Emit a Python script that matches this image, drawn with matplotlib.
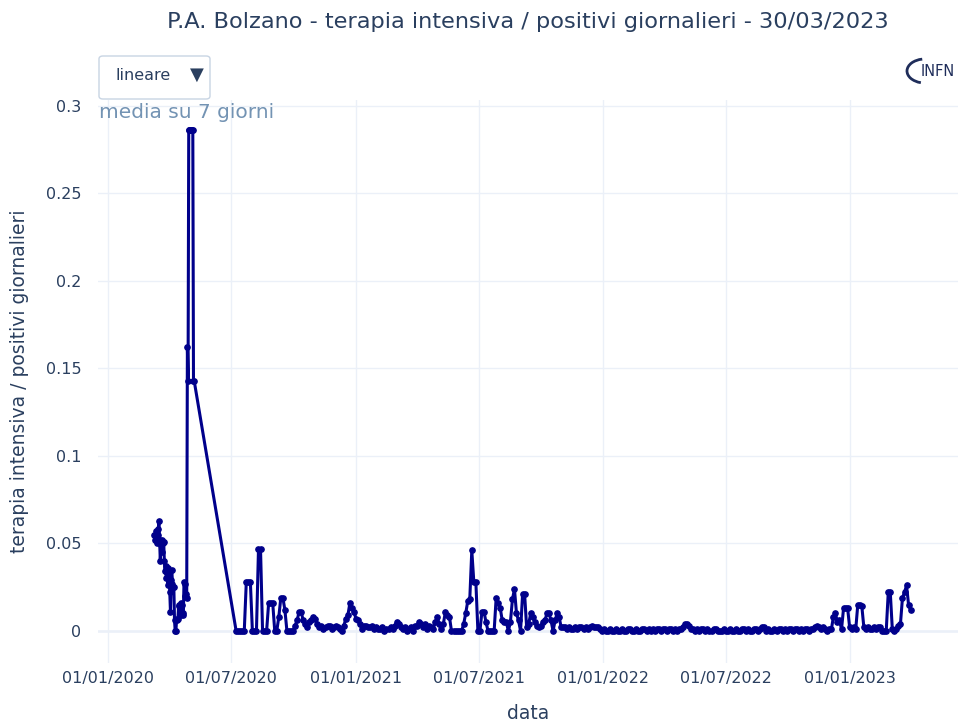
import numpy as np
import pandas as pd
import matplotlib
matplotlib.use("Agg")
import matplotlib.pyplot as plt
import matplotlib.dates as mdates
from matplotlib.patches import FancyBboxPatch, Arc

# first wave, daily values (7-day mean)
wave1_start = "2020-03-09"
wave1_vals = [
    0.055, 0.052, 0.057, 0.052, 0.050, 0.055, 0.058, 0.063, 0.052, 0.040,
    0.049, 0.052, 0.045, 0.050, 0.051, 0.040, 0.034, 0.037, 0.030, 0.033,
    0.026, 0.036, 0.030, 0.022, 0.011, 0.029, 0.035, 0.027, 0.025, 0.025,
    0.006, 0.0, 0.0, 0.006, 0.007, 0.007, 0.014, 0.015, 0.010, 0.009,
    0.016, 0.015, 0.010, 0.009, 0.028, 0.027, 0.020, 0.021, 0.019, 0.162,
    0.143, 0.286, 0.286, 0.286, 0.286, 0.286, 0.286, 0.286, 0.143, 0.143,
]

# from july 2020 on, one value every 3 days
rest_start = "2020-07-08"
rest_vals = [
    0.0, 0.0, 0.0, 0.0, 0.0, 0.028, 0.028, 0.028, 0.0, 0.0,            # 0
    0.0, 0.047, 0.047, 0.0, 0.0, 0.0, 0.016, 0.016, 0.016, 0.0,        # 10
    0.0, 0.008, 0.019, 0.019, 0.012, 0.0, 0.0, 0.0, 0.0, 0.003,        # 20
    0.006, 0.011, 0.011, 0.006, 0.004, 0.002, 0.005, 0.006, 0.008, 0.007,  # 30
    0.004, 0.002, 0.003, 0.001, 0.002, 0.003, 0.003, 0.001, 0.002, 0.003,  # 40
    0.002, 0.001, 0.0, 0.003, 0.007, 0.009, 0.016, 0.013, 0.011, 0.007,    # 50
    0.006, 0.004, 0.001, 0.003, 0.003, 0.002, 0.002, 0.003, 0.001, 0.002,  # 60
    0.001, 0.001, 0.002, 0.0, 0.001, 0.001, 0.002, 0.001, 0.003, 0.005,    # 70
    0.004, 0.002, 0.001, 0.002, 0.0, 0.001, 0.002, 0.0, 0.003, 0.003,      # 80
    0.005, 0.004, 0.002, 0.004, 0.001, 0.003, 0.002, 0.001, 0.005, 0.008,  # 90
    0.004, 0.001, 0.004, 0.011, 0.009, 0.008, 0.0, 0.0, 0.0, 0.0,          # 100
    0.0, 0.0, 0.004, 0.010, 0.017, 0.018, 0.046, 0.028, 0.028, 0.0,        # 110
    0.0, 0.011, 0.011, 0.005, 0.0, 0.0, 0.0, 0.0, 0.019, 0.016,            # 120
    0.013, 0.006, 0.005, 0.005, 0.0, 0.005, 0.018, 0.024, 0.010, 0.006,    # 130
    0.0, 0.021, 0.021, 0.002, 0.004, 0.010, 0.008, 0.005, 0.003, 0.002,    # 140
    0.003, 0.005, 0.006, 0.010, 0.010, 0.006, 0.0, 0.006, 0.010, 0.008,    # 150
    0.002, 0.002, 0.002, 0.001, 0.002, 0.001, 0.001, 0.002, 0.001, 0.002,  # 160
    0.002, 0.001, 0.002, 0.001, 0.002, 0.003, 0.002, 0.002, 0.002, 0.001,  # 170
    0.0, 0.001, 0.0, 0.0, 0.001, 0.0, 0.0, 0.001, 0.0, 0.0,                # 180
    0.001, 0.0, 0.0, 0.001, 0.001, 0.0, 0.0, 0.001, 0.0, 0.0,              # 190
    0.001, 0.001, 0.0, 0.001, 0.0, 0.001, 0.0, 0.001, 0.001, 0.0,          # 200
    0.001, 0.001, 0.0, 0.001, 0.001, 0.0, 0.001, 0.0, 0.001, 0.001,        # 210
    0.002, 0.004, 0.004, 0.003, 0.001, 0.001, 0.0, 0.001, 0.0, 0.001,      # 220
    0.001, 0.0, 0.001, 0.0, 0.0, 0.001, 0.001, 0.0, 0.0, 0.0,              # 230
    0.001, 0.0, 0.0, 0.001, 0.0, 0.0, 0.001, 0.0, 0.0, 0.001,              # 240
    0.001, 0.0, 0.001, 0.0, 0.0, 0.001, 0.001, 0.0, 0.001, 0.002,          # 250
    0.002, 0.0, 0.001, 0.0, 0.0, 0.001, 0.0, 0.001, 0.001, 0.0,            # 260
    0.001, 0.0, 0.001, 0.001, 0.0, 0.001, 0.001, 0.0, 0.001, 0.0,          # 270
    0.001, 0.001, 0.0, 0.001, 0.001, 0.002, 0.003, 0.002, 0.001, 0.002,    # 280
    0.001, 0.0, 0.001, 0.001, 0.008, 0.010, 0.005, 0.006, 0.001, 0.013,    # 290
    0.013, 0.013, 0.002, 0.001, 0.002, 0.001, 0.015, 0.015, 0.014, 0.002,  # 300
    0.001, 0.002, 0.001, 0.001, 0.002, 0.001, 0.002, 0.002, 0.0, 0.0,      # 310
    0.0, 0.022, 0.022, 0.001, 0.0, 0.001, 0.003, 0.004, 0.019, 0.022,      # 320
    0.026, 0.015, 0.012,                                                    # 330
]

title = "P.A. Bolzano - terapia intensiva / positivi giornalieri - 30/03/2023"
y_ticks = [0, 0.05, 0.1, 0.15, 0.2, 0.25, 0.3]
y_ticklabels = ["0", "0.05", "0.1", "0.15", "0.2", "0.25", "0.3"]
x_ticks = ["2020-01-01", "2020-07-01", "2021-01-01", "2021-07-01",
           "2022-01-01", "2022-07-01", "2023-01-01"]

dates = pd.date_range(wave1_start, periods=len(wave1_vals), freq="D").append(
    pd.date_range(rest_start, periods=len(rest_vals), freq="3D"))
vals = wave1_vals + rest_vals

text_col = "#2a3f5f"
grid_col = "#ebf0f8"

fig = plt.figure(figsize=(9.62, 7.26), dpi=100)
W, H = 962, 726
ax = fig.add_axes([98 / W, (H - 663) / H, (958 - 98) / W, (663 - 100) / H])

ax.plot(dates, vals, color="#00008b", lw=2.2, marker="o", ms=3.8, zorder=3)

ax.set_xlim(pd.Timestamp("2019-12-17"), pd.Timestamp("2023-06-09"))
ax.set_ylim(-0.0183, 0.3034)
ax.set_yticks(y_ticks)
ax.set_yticklabels(y_ticklabels)
ax.set_xticks(pd.to_datetime(x_ticks))
ax.xaxis.set_major_formatter(mdates.DateFormatter("%d/%m/%Y"))
ax.tick_params(length=0, labelsize=11.5, colors=text_col)
ax.tick_params(axis="y", pad=12)
ax.tick_params(axis="x", pad=6)
ax.grid(True, color=grid_col, lw=1)
ax.axhline(0, color=grid_col, lw=1.8, zorder=1)
ax.set_axisbelow(True)
for s in ax.spines.values():
    s.set_visible(False)

ax.set_xlabel("data", fontsize=13.5, color=text_col, labelpad=13)
ax.set_ylabel("terapia intensiva / positivi giornalieri", fontsize=13.5,
              color=text_col, labelpad=12)

fig.text(528 / W, 1 - 22 / H, title, ha="center", va="center",
         fontsize=16.2, color=text_col)
fig.text(99 / W, 1 - 112 / H, "media su 7 giorni", ha="left", va="center",
         fontsize=14.5, color="#7393b3")

# dropdown box
box = FancyBboxPatch((99 / W, 1 - 99 / H), 111 / W, 43 / H,
                     boxstyle="round,pad=0,rounding_size=0.004",
                     transform=fig.transFigure, fc="white", ec="#c8d4e3",
                     lw=1, zorder=1)
fig.patches.append(box)
fig.text(116 / W, 1 - 76 / H, "lineare", ha="left", va="center",
         fontsize=11.5, color=text_col, zorder=6)
fig.text(197 / W, 1 - 75 / H, "▼", ha="center", va="center",
         fontsize=13, color=text_col, zorder=6)

# logo
fig.text(921 / W, 1 - 71 / H, "INFN", ha="left", va="center", fontsize=10.5,
         color="#1f2d5a")
logo_arc = Arc((925 / W, 1 - 71 / H), 36 / W, 24 / H, theta1=100, theta2=255,
               transform=fig.transFigure, color="#1f2d5a", lw=2)
fig.patches.append(logo_arc)

fig.savefig("out.png", dpi=100)
